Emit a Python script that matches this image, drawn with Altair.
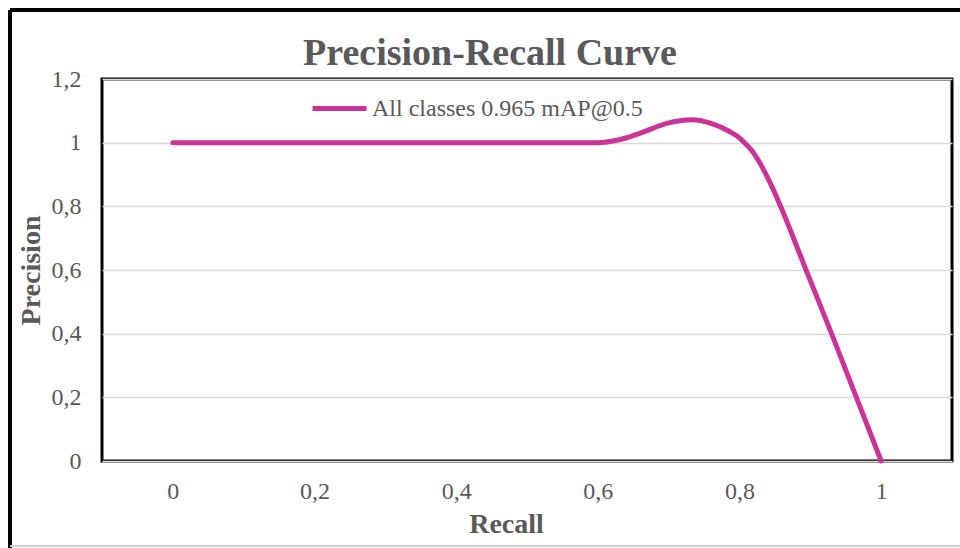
import altair as alt
import pandas as pd

# Data
recall = [0.0, 0.6, 0.63, 0.66, 0.70, 0.733, 0.762, 0.786, 0.796, 0.807, 0.817, 0.828, 0.845,
          0.858, 0.894, 0.930, 0.965, 1.0]
precision = [1.0, 1.0, 1.009, 1.03, 1.062, 1.072, 1.059, 1.035, 1.0215, 1.0, 0.976, 0.939, 0.866,
             0.80, 0.60, 0.40, 0.20, 0.0]
series_name = "All classes 0.965 mAP@0.5"
x_ticks = [0, 0.2, 0.4, 0.6, 0.8, 1]
y_ticks = [0, 0.2, 0.4, 0.6, 0.8, 1, 1.2]

df = pd.DataFrame({"Recall": recall, "Precision": precision, "series": [series_name] * len(recall)})

FONT = "Liberation Serif"
GRAY = "#595959"
LINE = "#CC3399"

W, H = 850, 382
PAD_L, PAD_T = 102, 79

label_expr = "replace(format(datum.value, '.1~f'), '.', ',')"

line = alt.Chart(df).mark_line(
    interpolate="monotone", strokeWidth=5, strokeCap="round"
).encode(
    x=alt.X("Recall:Q",
            scale=alt.Scale(domain=[-0.1, 1.1], nice=False, zero=False),
            axis=alt.Axis(values=x_ticks, labelExpr=label_expr, grid=False, ticks=False,
                          domain=False, labelPadding=18, labelFontSize=24, labelFont=FONT,
                          labelColor=GRAY, title="Recall", titleFont=FONT, titleFontSize=28,
                          titleFontWeight="bold", titleColor=GRAY, titleX=404, titleY=71,
                          titleAlign="center", titleBaseline="alphabetic")),
    y=alt.Y("Precision:Q",
            scale=alt.Scale(domain=[0, 1.2], nice=False),
            axis=alt.Axis(values=y_ticks, labelExpr=label_expr, grid=True, gridColor="#d9d9d9",
                          gridWidth=1.5, ticks=False, domain=False, labelPadding=21,
                          labelFontSize=24, labelFont=FONT, labelColor=GRAY,
                          title="Precision", titleFont=FONT, titleFontSize=28,
                          titleFontWeight="bold", titleColor=GRAY, titleAngle=270,
                          titleX=-71, titleY=191, titleAlign="center", titleBaseline="middle")),
    color=alt.Color("series:N", scale=alt.Scale(range=[LINE]),
                    legend=alt.Legend(orient="none", legendX=208, legendY=0, title=None,
                                      symbolType="stroke", symbolSize=2916, symbolStrokeWidth=5,
                                      labelFontSize=24, labelFont=FONT, labelColor=GRAY,
                                      labelOffset=3, labelLimit=500, padding=0)),
)

frame_left = alt.Chart(df).mark_rule(color="black", strokeWidth=3).encode(
    x=alt.value(-92), y=alt.value(-69), y2=alt.value(470))
frame_top = alt.Chart(df).mark_rule(color="black", strokeWidth=3).encode(
    x=alt.value(-92), x2=alt.value(870), y=alt.value(-69))
frame_bottom = alt.Chart(df).mark_rule(color="#d0d0d0", strokeWidth=2).encode(
    x=alt.value(-92), x2=alt.value(870), y=alt.value(467))

chart = alt.layer(frame_left, frame_top, frame_bottom, line).properties(
    width=W, height=H,
    title=alt.Title("Precision-Recall Curve", font=FONT, fontSize=38, fontWeight="bold",
                    color=GRAY, anchor="middle", dx=-37, dy=94, offset=0, baseline="alphabetic"),
    padding={"left": PAD_L, "top": PAD_T, "right": 8, "bottom": 87},
    autosize=alt.AutoSizeParams(type="none"),
).configure(background="white").configure_view(stroke="black", strokeWidth=3)

chart.save("out.html", embed_options={"renderer": "svg", "actions": False})
